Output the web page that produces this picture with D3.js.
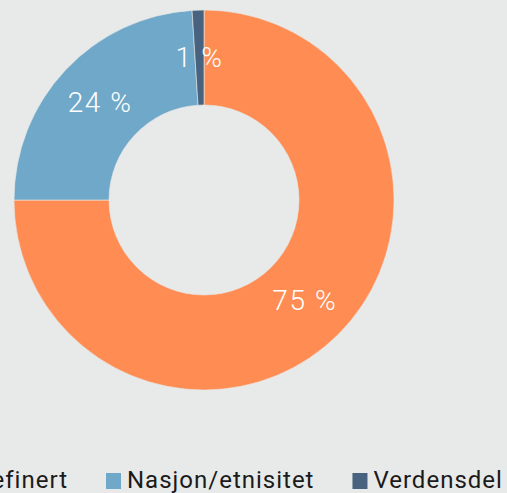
<!DOCTYPE html>
<html><head><meta charset="utf-8">
<script src="https://cdn.jsdelivr.net/npm/d3@7"></script>
<style>
html,body{margin:0;padding:0;background:#e8e9e9;overflow:hidden;}
svg{display:block;font-family:Roboto,"Noto Sans",sans-serif;}
</style></head>
<body>
<svg id="c" width="507" height="493"></svg>
<script>
const categories = ["Udefinert", "Nasjon/etnisitet", "Verdensdel"];
const values = [75, 24, 1];
const labels = ["75 %", "24 %", "1 %"];
const colors = ["#ff8c52", "#6fa8c8", "#48637f"];

const svg = d3.select("#c");
svg.append("rect").attr("width", 507).attr("height", 493).attr("fill", "#e8e9e9");

const cx = 204, cy = 200, rOuter = 190, rInner = 95;
const pie = d3.pie().sort(null).value(d => d);
const arcs = pie(values);
const arc = d3.arc().innerRadius(rInner).outerRadius(rOuter);
const g = svg.append("g").attr("transform", `translate(${cx},${cy})`);
g.selectAll("path").data(arcs).join("path")
  .attr("d", arc)
  .attr("fill", (d, i) => colors[i])
  .attr("stroke", "#e8e9e9").attr("stroke-width", 0.6);

const labelArc = d3.arc().innerRadius((rInner + rOuter) / 2).outerRadius((rInner + rOuter) / 2);
g.selectAll("text").data(arcs).join("text")
  .attr("transform", d => `translate(${labelArc.centroid(d)})`)
  .attr("text-anchor", "middle")
  .attr("dy", "0.33em")
  .attr("fill", "#ffffff")
  .attr("font-size", 28)
  .attr("font-weight", 300)
  .attr("letter-spacing", "1.6px")
  .text((d, i) => labels[i]);

// Legend
const lg = svg.append("g");
const items = lg.selectAll("g").data(categories).join("g");
items.append("rect").attr("width", 15).attr("height", 16).attr("y", 473)
  .attr("fill", (d, i) => colors[i]);
items.append("text").attr("x", 21).attr("y", 488)
  .attr("font-size", 24).attr("fill", "#1a1a1a")
  .attr("letter-spacing", "1px")
  .text(d => d);
const widths = [];
items.each(function () { widths.push(d3.select(this).select("text").node().getComputedTextLength()); });
const pos = [];
pos[1] = 106;
pos[0] = pos[1] - 38 - widths[0] - 21;
pos[2] = pos[1] + 21 + widths[1] + 38;
items.attr("transform", (d, i) => `translate(${pos[i]},0)`);
</script>
</body></html>
